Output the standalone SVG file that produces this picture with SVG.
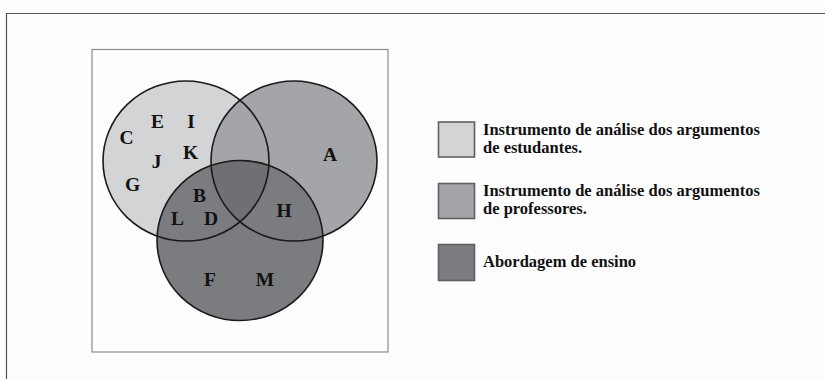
<svg xmlns="http://www.w3.org/2000/svg" width="825" height="379" viewBox="0 0 825 379">
<style>
.lt{font-family:"Liberation Serif","Times New Roman",serif;font-weight:bold;font-size:19.5px;fill:#111;text-anchor:middle}
.lg{font-family:"Liberation Serif","Times New Roman",serif;font-weight:bold;font-size:16.5px;fill:#111}
.ring{fill:none;stroke:#1a1a1a;stroke-width:1.6}
.box{stroke:#5f6063;stroke-width:1.6}
</style>
<defs>
<clipPath id="cL"><ellipse cx="186" cy="161" rx="83" ry="80"/></clipPath>
<clipPath id="cR"><ellipse cx="294" cy="161" rx="83" ry="80"/></clipPath>
</defs>
<rect x="0" y="0" width="825" height="379" fill="#fdfdfd"/>
<path d="M6.5 379 V13.5 H825" fill="none" stroke="#555" stroke-width="1.2"/>
<rect x="92" y="49.5" width="296" height="302.5" fill="none" stroke="#8a8a8a" stroke-width="1.2"/>
<g id="venn">
<g id="set-estudantes"><ellipse cx="186" cy="161" rx="83" ry="80" fill="#d3d4d6"/></g>
<g id="set-professores"><ellipse cx="294" cy="161" rx="83" ry="80" fill="#a3a5a8"/></g>
<g id="set-abordagem"><ellipse cx="240" cy="240.5" rx="83" ry="80" fill="#7b7c80"/></g>
<g clip-path="url(#cL)"><ellipse cx="240" cy="240.5" rx="83" ry="80" fill="#6f7074" clip-path="url(#cR)"/></g>
<ellipse class="ring" cx="186" cy="161" rx="83" ry="80"/>
<ellipse class="ring" cx="294" cy="161" rx="83" ry="80"/>
<ellipse class="ring" cx="240" cy="240.5" rx="83" ry="80"/>
<g id="labels">
<text class="lt" x="126.5" y="144">C</text>
<text class="lt" x="157.5" y="128">E</text>
<text class="lt" x="191" y="128">I</text>
<text class="lt" x="156.5" y="168">J</text>
<text class="lt" x="190.5" y="159">K</text>
<text class="lt" x="132.5" y="190.5">G</text>
<text class="lt" x="199.5" y="201.5">B</text>
<text class="lt" x="177.5" y="225">L</text>
<text class="lt" x="211" y="225">D</text>
<text class="lt" x="284" y="217">H</text>
<text class="lt" x="330" y="161">A</text>
<text class="lt" x="210" y="286">F</text>
<text class="lt" x="265" y="286">M</text>
</g>
</g>
<g id="legend-1">
<rect class="box" x="438.5" y="122" width="36" height="35" fill="#d3d4d6"/>
<text class="lg" x="483" y="135">Instrumento de análise dos argumentos</text>
<text class="lg" x="483" y="152.5">de estudantes.</text>
</g>
<g id="legend-2">
<rect class="box" x="438.5" y="183.5" width="36" height="35" fill="#a3a5a8"/>
<text class="lg" x="483" y="196">Instrumento de análise dos argumentos</text>
<text class="lg" x="483" y="213.5">de professores.</text>
</g>
<g id="legend-3">
<rect class="box" x="438.5" y="244.5" width="36" height="36" fill="#7b7c80"/>
<text class="lg" x="483" y="267">Abordagem de ensino</text>
</g>
</svg>
